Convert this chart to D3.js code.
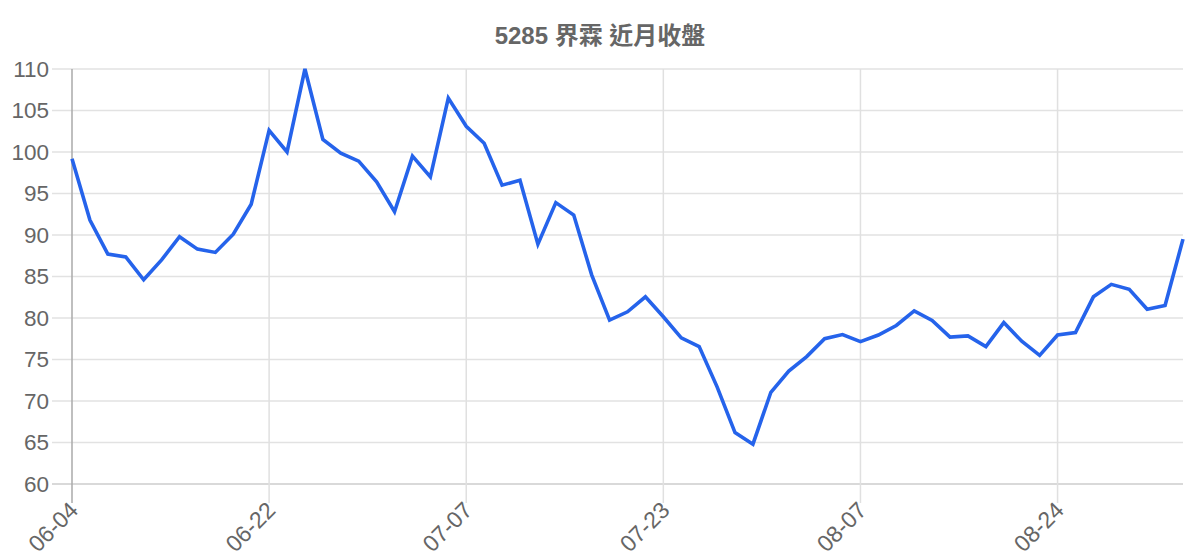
<!DOCTYPE html>
<html><head><meta charset="utf-8">
<script src="https://cdn.jsdelivr.net/npm/d3@7"></script>
<style>body{margin:0;background:#fff}svg{display:block}</style>
</head><body><svg id="c" width="1200" height="560"></svg>
<script>
const title = "5285 界霖 近月收盤";
const dates = ["06-04","06-05","06-08","06-09","06-10","06-11","06-12","06-15","06-16","06-17","06-19",
"06-22","06-23","06-24","06-25","06-26","06-29","06-30","07-01","07-02","07-03","07-06",
"07-07","07-08","07-09","07-10","07-13","07-14","07-15","07-16","07-20","07-21","07-22",
"07-23","07-24","07-27","07-28","07-29","07-30","07-31","08-03","08-04","08-05","08-06",
"08-07","08-10","08-11","08-12","08-13","08-14","08-17","08-18","08-19","08-20","08-21",
"08-24","08-25","08-26","08-27","08-28","08-31","09-01","09-02"];
const closes = [99.2,91.8,87.7,87.35,84.6,87.0,89.8,88.3,87.9,90.1,93.7,
102.6,100.0,110.0,101.5,99.85,98.9,96.4,92.8,99.5,97.0,106.5,
103.1,101.05,96.0,96.6,88.9,93.9,92.4,85.2,79.75,80.75,82.55,
80.15,77.6,76.55,71.7,66.2,64.8,71.05,73.6,75.35,77.5,78.0,
77.15,77.95,79.1,80.85,79.7,77.7,77.85,76.55,79.45,77.2,75.5,
77.95,78.25,82.55,84.05,83.45,81.05,81.5,89.5];
const yTicks = [60,65,70,75,80,85,90,95,100,105,110];
const xTickLabels = ["06-04","06-22","07-07","07-23","08-07","08-24"];

const svg = d3.select("#c");
const pl = 72, pr = 1183, pt = 69, pb = 484;
const font = "'Liberation Sans','Noto Sans CJK TC',Arial,sans-serif";

const x = d3.scalePoint().domain(dates).range([pl, pr]);
const y = d3.scaleLinear().domain([60,110]).range([pb, pt]);

// horizontal grid
svg.append("g").selectAll("line").data(yTicks).join("line")
  .attr("x1", 52).attr("x2", pr).attr("y1", d=>y(d)).attr("y2", d=>y(d))
  .attr("stroke", d=> d===60 ? "#cccccc" : "#e2e2e2").attr("stroke-width",1.5);
// vertical grid
svg.append("g").selectAll("line").data(xTickLabels).join("line")
  .attr("x1", d=>x(d)).attr("x2", d=>x(d)).attr("y1", pt).attr("y2", pb+19)
  .attr("stroke", (d,i)=> i===0 ? "#aaaaaa" : "#e0e0e0").attr("stroke-width",1.5);

// y labels
svg.append("g").selectAll("text").data(yTicks).join("text")
  .attr("x", 49).attr("y", d=>y(d)).attr("text-anchor","end").attr("dominant-baseline","central")
  .attr("font-family", font).attr("font-size", 22.5).attr("fill","#666").text(d=>d);

// x labels
svg.append("g").selectAll("text").data(xTickLabels).join("text")
  .attr("transform", d=>`translate(${x(d)+2},${pb+22}) rotate(-45)`)
  .attr("text-anchor","end").attr("dominant-baseline","central")
  .attr("font-family", font).attr("font-size", 23).attr("fill","#666")
  .text(d=>d);

// line
svg.append("path").datum(closes)
  .attr("d", d3.line().x((d,i)=>x(dates[i])).y(d=>y(d)))
  .attr("fill","none").attr("stroke","#2563eb").attr("stroke-width",3.6)
  .attr("stroke-linejoin","miter");

// title
svg.append("text").attr("x", 600).attr("y", 44).attr("text-anchor","middle")
  .attr("font-family", font).attr("font-weight","bold").attr("font-size", 24)
  .attr("fill","#666").text(title);
</script></body></html>
